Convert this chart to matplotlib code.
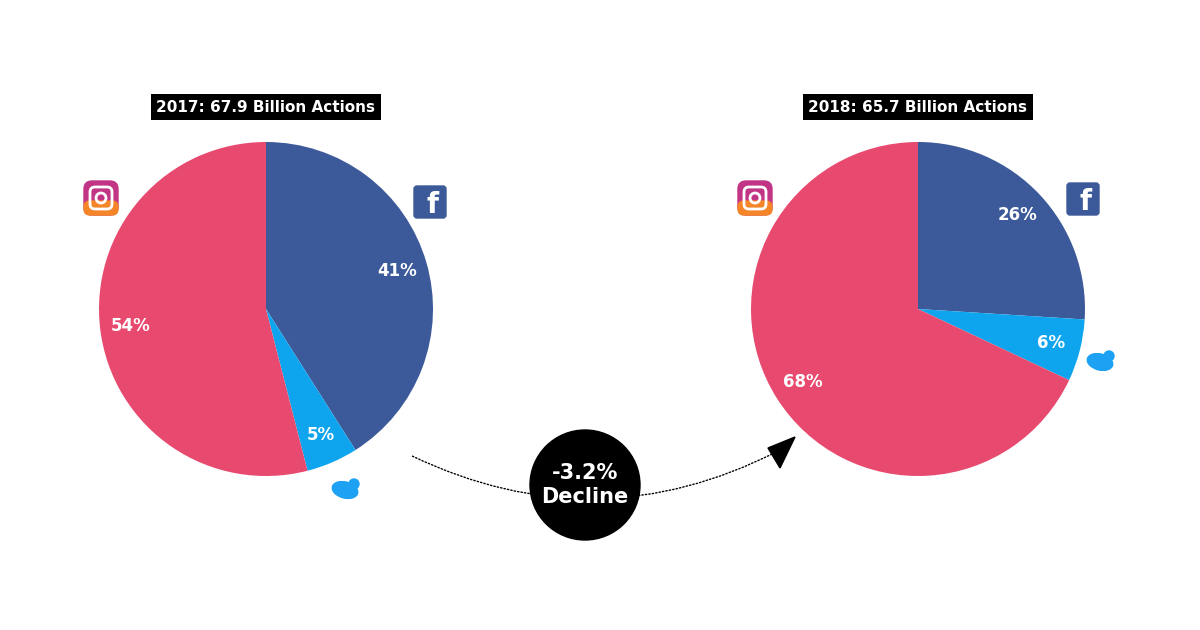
import matplotlib
matplotlib.use("Agg")
import matplotlib.pyplot as plt
from matplotlib.patches import FancyBboxPatch, Circle, Ellipse, FancyArrowPatch, Polygon
import numpy as np

platforms = ["Facebook", "Twitter", "Instagram"]
share_2017 = [41, 5, 54]
share_2018 = [26, 6, 68]
titles = ["2017: 67.9 Billion Actions", "2018: 65.7 Billion Actions"]
change_label = "-3.2%\nDecline"
colors = ["#3c5a99", "#0ea5ee", "#e84a6f"]

fig = plt.figure(figsize=(12, 6.3), dpi=100)
ax = fig.add_axes([0, 0, 1, 1])
ax.set_xlim(0, 1200); ax.set_ylim(0, 630); ax.set_aspect("equal"); ax.axis("off")
H = 630

def pie(vals, cx, cy, title):
    ax.pie(vals, colors=colors, startangle=90, counterclock=False,
        center=(cx, H - cy), radius=167, autopct="%d%%", pctdistance=0.82,
        textprops=dict(color="white", fontsize=12, fontweight="bold"))
    ax.text(cx, H - 107, title, ha="center", va="center", color="white", fontsize=11,
            fontweight="bold", bbox=dict(facecolor="black", edgecolor="none", pad=4))

pie(share_2017, 266, 309, titles[0])
pie(share_2018, 918, 309, titles[1])
ax.set_xlim(0, 1200); ax.set_ylim(0, 630)

def fb(x, y):
    ax.add_patch(FancyBboxPatch((x - 16, H - y - 16), 32, 32, boxstyle="round,pad=0,rounding_size=3",
                                color="#3c5a99"))
    ax.text(x + 3, H - y - 3, "f", color="white", fontsize=20, fontweight="bold", ha="center", va="center")

def ig(x, y):
    ax.add_patch(FancyBboxPatch((x - 17, H - y - 17), 34, 34, boxstyle="round,pad=0,rounding_size=8",
                                color="#c13584"))
    ax.add_patch(FancyBboxPatch((x - 17, H - y - 17), 34, 14, boxstyle="round,pad=0,rounding_size=6",
                                color="#f58529"))
    ax.add_patch(FancyBboxPatch((x - 11, H - y - 11), 22, 22, boxstyle="round,pad=0,rounding_size=5",
                                fill=False, ec="white", lw=2))
    ax.add_patch(Circle((x, H - y), 5, fill=False, ec="white", lw=2))

def tw(x, y):
    ax.add_patch(Ellipse((x, H - y), 26, 16, angle=-15, color="#1da1f2"))
    ax.add_patch(Circle((x + 9, H - y + 6), 5, color="#1da1f2"))

fb(430, 202); ig(101, 198); tw(345, 490)
fb(1083, 199); ig(755, 198); tw(1100, 362)

# curved dotted line
ax.add_patch(FancyArrowPatch((410, H - 455), (780, H - 450), connectionstyle="arc3,rad=0.25",
             arrowstyle="-", linestyle=(0, (1, 1.5)), lw=1, color="black"))
ax.add_patch(Polygon([(795, H - 437), (768, H - 448), (780, H - 468)], closed=True, color="black"))
ax.add_patch(Circle((585, H - 485), 55, color="black", zorder=5))
ax.text(585, H - 485, change_label, ha="center", va="center", color="white", fontsize=15,
        fontweight="bold", zorder=6, linespacing=1.3)

fig.savefig("out.png", dpi=100, facecolor="white")
